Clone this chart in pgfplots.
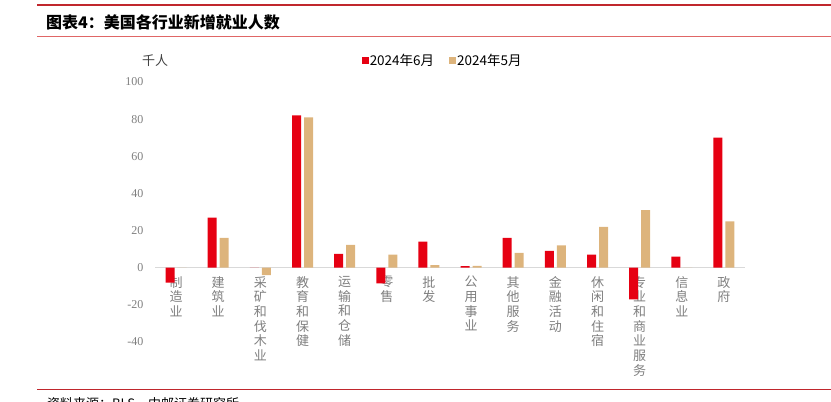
\documentclass[border=0pt]{standalone}
\usepackage{pgfplots}
\pgfplotsset{compat=1.18}
\usepackage{fontspec}
\setmainfont{Liberation Serif}
\newfontfamily\cjk{Noto Sans CJK SC}
\definecolor{junred}{HTML}{E60012}
\definecolor{maytan}{HTML}{DDB47C}
\definecolor{darkline}{HTML}{C0272D}
\definecolor{lightline}{HTML}{E06666}
\definecolor{labgray}{HTML}{7F7F7F}

\begin{document}
\begin{tikzpicture}[x=1pt,y=1pt]
\path[use as bounding box] (0,0) rectangle (831,402);
\clip (0,0) rectangle (831,402);

% frame lines and title
\draw[darkline, line width=2.5pt] (37,397) -- (831,397);
\node[anchor=west, inner sep=0] at (46,380)
  {\cjk\bfseries\fontsize{16}{18}\selectfont 图表4：美国各行业新增就业人数};
\draw[lightline, line width=1pt] (37,365) -- (831,365);
\draw[darkline, line width=1pt] (37,12) -- (831,12);
\node[anchor=north west, inner sep=0] at (47,5)
  {\cjk\fontsize{13}{15}\selectfont 资料来源：BLS，中邮证券研究所};

\node[text=black!75] at (155,341) {\cjk\fontsize{13}{15}\selectfont 千人};

\begin{axis}[
  at={(155pt,60pt)}, anchor=south west,
  scale only axis,
  width=590pt, height=260pt,
  ymin=-40, ymax=100,
  xmin=-0.5, xmax=13.5,
  axis x line*=middle,
  axis y line*=left,
  x axis line style={draw=black!15, line width=1.5pt},
  y axis line style={draw=none},
  major tick length=0pt,
  ytick={-40,-20,0,20,40,60,80,100},
  /pgf/number format/assume math mode=true,
  yticklabel style={font=\fontsize{12}{14}\selectfont, text=labgray, xshift=-8pt},
  xtick={0,...,13},
  xticklabels={{制\\造\\业},{建\\筑\\业},{采\\矿\\和\\伐\\木\\业},{教\\育\\和\\保\\健},
    {运\\输\\和\\仓\\储},{零\\售},{批\\发},{公\\用\\事\\业},{其\\他\\服\\务},
    {金\\融\\活\\动},{休\\闲\\和\\住\\宿},{专\\业\\和\\商\\业\\服\\务},{信\\息\\业},{政\\府}},
  xticklabel style={font=\cjk\fontsize{13}{14.7}\selectfont, text=labgray,
    align=center, anchor=north, yshift=-5pt},
  ybar=3pt, bar width=9pt,
  legend columns=2,
  legend style={at={(0.345,1.081)}, anchor=west, draw=none, fill=none,
    font=\cjk\fontsize{13.5}{15}\selectfont,
    /tikz/every even column/.append style={column sep=14pt},
    nodes={inner sep=1pt}},
]
\addplot[fill=junred, draw=none,
  legend image code/.code={\fill[junred] (0pt,-3.5pt) rectangle (7pt,3.5pt);}]
  coordinates {(0,-8) (1,27) (2,0) (3,82) (4,7.4) (5,-8.5) (6,14)
               (7,0.9) (8,16) (9,9) (10,7) (11,-17) (12,6) (13,70)};
\addlegendentry{2024年6月}
\addplot[fill=maytan, draw=none,
  legend image code/.code={\fill[maytan] (0pt,-3.5pt) rectangle (7pt,3.5pt);}]
  coordinates {(0,0) (1,16) (2,-4) (3,81) (4,12.3) (5,7) (6,1.4)
               (7,1.0) (8,8) (9,12) (10,22) (11,31) (12,0) (13,25)};
\addlegendentry{2024年5月}
\end{axis}
\end{tikzpicture}
\end{document}
